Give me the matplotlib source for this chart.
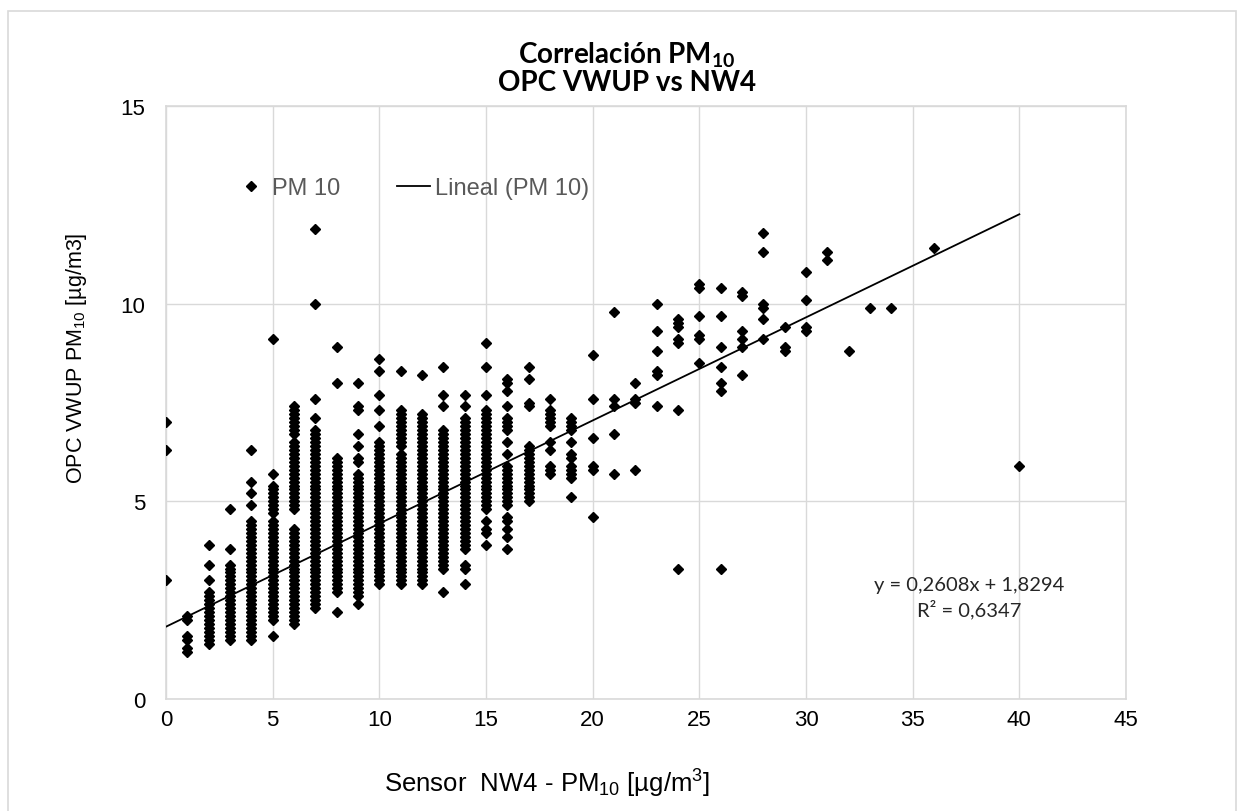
import numpy as np
import matplotlib
matplotlib.use("Agg")
import matplotlib.pyplot as plt
from matplotlib.patches import Rectangle

plt.rcParams['font.family'] = ['Liberation Sans', 'DejaVu Sans']
plt.rcParams['mathtext.fontset'] = 'custom'
plt.rcParams['mathtext.rm'] = 'Liberation Sans'
plt.rcParams['mathtext.it'] = 'Liberation Sans:italic'
plt.rcParams['mathtext.bf'] = 'Lato:bold'

# OPC VWUP readings (y) grouped by the integer NW4 reading (x)
y_at_0 = [3.0, 6.3, 7.0]
y_at_1 = [1.2, 1.3, 1.5, 1.6, 2.0, 2.1]
y_at_2 = [1.4, 1.5, 1.6, 1.7, 1.8, 1.9, 2.0, 2.1, 2.2, 2.3, 2.4, 2.5, 2.6, 2.7,
          3.0, 3.4, 3.9]
y_at_3 = [1.5, 1.6, 1.7, 1.8, 1.9, 2.0, 2.1, 2.2, 2.3, 2.4, 2.5, 2.6, 2.7, 2.8,
          2.9, 3.0, 3.1, 3.2, 3.3, 3.4, 3.8, 4.8]
y_at_4 = [1.5, 1.6, 1.7, 1.8, 1.9, 2.0, 2.1, 2.2, 2.3, 2.4, 2.5, 2.6, 2.7, 2.8,
          2.9, 3.0, 3.1, 3.2, 3.3, 3.4, 3.5, 3.6, 3.7, 3.8, 3.9, 4.0, 4.1, 4.2,
          4.3, 4.4, 4.5, 4.9, 5.2, 5.5, 6.3]
y_at_5 = [1.6, 2.0, 2.1, 2.2, 2.3, 2.4, 2.5, 2.6, 2.7, 2.8, 2.9, 3.0, 3.1, 3.2,
          3.3, 3.4, 3.5, 3.6, 3.7, 3.8, 3.9, 4.0, 4.1, 4.2, 4.3, 4.4, 4.5, 4.7,
          4.8, 4.9, 5.0, 5.1, 5.2, 5.3, 5.4, 5.7, 9.1]
y_at_6 = [1.9, 2.0, 2.1, 2.2, 2.3, 2.4, 2.5, 2.6, 2.7, 2.8, 2.9, 3.0, 3.1, 3.2,
          3.3, 3.4, 3.5, 3.6, 3.7, 3.8, 3.9, 4.0, 4.1, 4.2, 4.3, 4.8, 4.9, 5.0,
          5.1, 5.2, 5.3, 5.4, 5.5, 5.6, 5.7, 5.8, 5.9, 6.0, 6.1, 6.2, 6.3, 6.4,
          6.5, 6.7, 6.8, 6.9, 7.0, 7.1, 7.2, 7.3, 7.4]
y_at_7 = [2.3, 2.4, 2.5, 2.6, 2.7, 2.8, 2.9, 3.0, 3.1, 3.2, 3.3, 3.4, 3.5, 3.6,
          3.7, 3.8, 3.9, 4.0, 4.1, 4.2, 4.3, 4.4, 4.5, 4.6, 4.7, 4.8, 4.9, 5.0,
          5.1, 5.2, 5.3, 5.4, 5.5, 5.6, 5.7, 5.8, 5.9, 6.0, 6.1, 6.2, 6.3, 6.4,
          6.5, 6.6, 6.7, 6.8, 7.1, 7.6, 10.0, 11.9]
y_at_8 = [2.2, 2.7, 2.8, 2.9, 3.0, 3.1, 3.2, 3.3, 3.4, 3.5, 3.6, 3.7, 3.8, 3.9,
          4.0, 4.1, 4.2, 4.3, 4.4, 4.5, 4.6, 4.7, 4.8, 4.9, 5.0, 5.1, 5.2, 5.3,
          5.4, 5.5, 5.6, 5.7, 5.8, 5.9, 6.0, 6.1, 8.0, 8.9]
y_at_9 = [2.4, 2.6, 2.7, 2.8, 2.9, 3.0, 3.1, 3.2, 3.3, 3.4, 3.5, 3.6, 3.7, 3.8,
          3.9, 4.0, 4.1, 4.2, 4.3, 4.4, 4.5, 4.6, 4.7, 4.8, 4.9, 5.0, 5.1, 5.2,
          5.3, 5.4, 5.5, 5.6, 5.7, 6.0, 6.1, 6.4, 6.7, 7.3, 7.4, 8.0]
y_at_10 = [2.9, 3.0, 3.1, 3.2, 3.3, 3.4, 3.5, 3.6, 3.7, 3.8, 3.9, 4.0, 4.1, 4.2,
           4.3, 4.4, 4.5, 4.6, 4.7, 4.8, 4.9, 5.0, 5.1, 5.2, 5.3, 5.4, 5.5, 5.6,
           5.7, 5.8, 5.9, 6.0, 6.1, 6.2, 6.3, 6.4, 6.5, 6.9, 7.3, 7.7, 8.3, 8.6]
y_at_11 = [2.9, 3.0, 3.1, 3.2, 3.3, 3.4, 3.5, 3.6, 3.7, 3.8, 3.9, 4.0, 4.1, 4.2,
           4.3, 4.4, 4.5, 4.6, 4.7, 4.8, 4.9, 5.0, 5.1, 5.2, 5.3, 5.4, 5.5, 5.6,
           5.7, 5.8, 5.9, 6.0, 6.1, 6.2, 6.4, 6.5, 6.6, 6.7, 6.8, 6.9, 7.0, 7.1,
           7.2, 7.3, 8.3]
y_at_12 = [2.9, 3.0, 3.1, 3.2, 3.3, 3.4, 3.5, 3.6, 3.7, 3.8, 3.9, 4.0, 4.1, 4.2,
           4.3, 4.4, 4.5, 4.6, 4.7, 4.8, 4.9, 5.0, 5.1, 5.2, 5.3, 5.4, 5.5, 5.6,
           5.7, 5.8, 5.9, 6.0, 6.1, 6.2, 6.3, 6.4, 6.5, 6.6, 6.7, 6.8, 6.9, 7.0,
           7.1, 7.2, 8.2]
y_at_13 = [2.7, 3.3, 3.4, 3.5, 3.6, 3.7, 3.8, 3.9, 4.0, 4.1, 4.2, 4.3, 4.4, 4.5,
           4.6, 4.7, 4.8, 4.9, 5.0, 5.1, 5.2, 5.3, 5.4, 5.5, 5.6, 5.7, 5.8, 5.9,
           6.0, 6.1, 6.2, 6.3, 6.4, 6.5, 6.6, 6.7, 6.8, 7.4, 7.7, 8.4]
y_at_14 = [2.9, 3.3, 3.4, 3.8, 3.9, 4.0, 4.1, 4.2, 4.3, 4.4, 4.5, 4.6, 4.7, 4.8,
           4.9, 5.0, 5.1, 5.2, 5.3, 5.4, 5.5, 5.6, 5.7, 5.8, 5.9, 6.0, 6.1, 6.2,
           6.3, 6.4, 6.5, 6.6, 6.7, 6.8, 6.9, 7.0, 7.1, 7.4, 7.7]
y_at_15 = [3.9, 4.2, 4.3, 4.5, 4.8, 4.9, 5.0, 5.1, 5.2, 5.3, 5.4, 5.5, 5.6, 5.7,
           5.8, 5.9, 6.0, 6.1, 6.2, 6.3, 6.4, 6.5, 6.6, 6.7, 6.8, 6.9, 7.0, 7.1,
           7.2, 7.3, 7.7, 8.4, 9.0]
y_at_16 = [3.8, 4.1, 4.3, 4.5, 4.6, 4.9, 5.0, 5.1, 5.2, 5.3, 5.4, 5.5, 5.6, 5.7,
           5.8, 5.9, 6.2, 6.5, 6.8, 6.9, 7.0, 7.1, 7.4, 7.8, 8.0, 8.1]
y_at_17 = [5.0, 5.1, 5.2, 5.3, 5.4, 5.5, 5.6, 5.7, 5.8, 5.9, 6.0, 6.1, 6.2, 6.3,
           6.4, 7.4, 7.5, 8.1, 8.4]
y_at_18 = [5.7, 5.8, 5.9, 6.3, 6.5, 6.9, 7.0, 7.1, 7.2, 7.3, 7.6]
y_at_19 = [5.1, 5.6, 5.7, 5.8, 5.9, 6.1, 6.2, 6.5, 6.8, 6.9, 7.0, 7.1]
y_at_20 = [4.6, 5.8, 5.9, 6.6, 7.6, 8.7]
y_at_21 = [5.7, 6.7, 7.4, 7.6, 9.8]
y_at_22 = [5.8, 7.5, 7.6, 8.0]
y_at_23 = [7.4, 8.2, 8.3, 8.8, 9.3, 10.0]
y_at_24 = [3.3, 7.3, 9.0, 9.1, 9.4, 9.5, 9.6]
y_at_25 = [8.5, 9.1, 9.2, 9.7, 10.4, 10.5]
y_at_26 = [3.3, 7.8, 8.0, 8.4, 8.9, 9.7, 10.4]
y_at_27 = [8.2, 8.9, 9.1, 9.3, 10.2, 10.3]
y_at_28 = [9.1, 9.6, 9.9, 10.0, 11.3, 11.8]
y_at_29 = [8.8, 8.9, 9.4]
y_at_30 = [9.3, 9.4, 10.1, 10.8]
y_at_31 = [11.1, 11.3]
y_at_32 = [8.8]
y_at_33 = [9.9]
y_at_34 = [9.9]
y_at_36 = [11.4]
y_at_40 = [5.9]

columns = [(0, y_at_0), (1, y_at_1), (2, y_at_2), (3, y_at_3), (4, y_at_4),
           (5, y_at_5), (6, y_at_6), (7, y_at_7), (8, y_at_8), (9, y_at_9),
           (10, y_at_10), (11, y_at_11), (12, y_at_12), (13, y_at_13),
           (14, y_at_14), (15, y_at_15), (16, y_at_16), (17, y_at_17),
           (18, y_at_18), (19, y_at_19), (20, y_at_20), (21, y_at_21),
           (22, y_at_22), (23, y_at_23), (24, y_at_24), (25, y_at_25),
           (26, y_at_26), (27, y_at_27), (28, y_at_28), (29, y_at_29),
           (30, y_at_30), (31, y_at_31), (32, y_at_32), (33, y_at_33),
           (34, y_at_34), (36, y_at_36), (40, y_at_40)]

# Excel linear trendline as printed on the chart
slope = 0.2608
intercept = 1.8294
r2 = 0.6347

x_vals = []
y_vals = []
for xv, ys in columns:
    for yv in ys:
        x_vals.append(xv)
        y_vals.append(yv)
x_vals = np.array(x_vals, dtype=float)
y_vals = np.array(y_vals)

W, H = 1244, 812
fig = plt.figure(figsize=(W / 100, H / 100), dpi=100)
fig.subplots_adjust(left=166 / W, right=1126 / W, bottom=1 - 700 / H, top=1 - 107 / H)
ax = fig.add_subplot(111)

fig.add_artist(Rectangle((8 / W, -0.05), (1236 - 8) / W, 1.05 - 12 / H,
                         transform=fig.transFigure, fill=False,
                         edgecolor='#d9d9d9', linewidth=1.2))

ax.plot(x_vals, y_vals, linestyle='none', marker='D', markersize=4.8,
        color='black', label='PM 10', zorder=3)
xt = np.array([x_vals.min(), x_vals.max()])
ax.plot(xt, slope * xt + intercept, color='black', linewidth=1.3,
        label='Lineal (PM 10)', zorder=4)

ax.set_xlim(0, 45)
ax.set_ylim(0, 15)
ax.set_xticks(range(0, 46, 5))
ax.set_yticks([0, 5, 10, 15])
ax.grid(True, color='#d9d9d9', linewidth=1.0)
ax.set_axisbelow(True)
for s in ax.spines.values():
    s.set_color('#d9d9d9')
    s.set_linewidth(1.2)
ax.tick_params(axis='both', length=0, labelsize=16, labelcolor='black')
ax.tick_params(axis='y', pad=15)
ax.tick_params(axis='x', pad=7)

ax.set_xlabel('Sensor  NW4 - PM$_{10}$ [µg/m$^{3}$]', fontsize=18.5, color='black')
ax.xaxis.set_label_coords(0.397, -0.115)
ax.xaxis.label.set_va('top')
ax.set_ylabel('OPC VWUP PM$_{10}$ [µg/m3]', fontsize=15.5, color='black')
ax.yaxis.set_label_coords(-0.08, 0.577)

fig.text(627 / W, 1 - 68 / H, 'Correlación PM$_{\\mathbf{10}}$\nOPC VWUP vs NW4',
         ha='center', va='center', fontsize=20, fontweight='bold',
         family='Lato', linespacing=1.0)

ax.text(969 / W, 1 - 598 / H, 'y = %sx + %s\nR² = %s' % (
            str(slope).replace('.', ','), str(intercept).replace('.', ','),
            str(r2).replace('.', ',')),
        transform=fig.transFigure, ha='center', va='center', fontsize=14.5,
        family='Lato', color='#262626', linespacing=1.35)

leg = ax.legend(loc='center', bbox_to_anchor=(0.2557, 0.862), ncol=2,
                frameon=False, fontsize=17, handlelength=1.4,
                handletextpad=0.2, columnspacing=2.4, markerscale=1.0)
for t in leg.get_texts():
    t.set_color('#595959')

fig.savefig('out.png', dpi=100)
